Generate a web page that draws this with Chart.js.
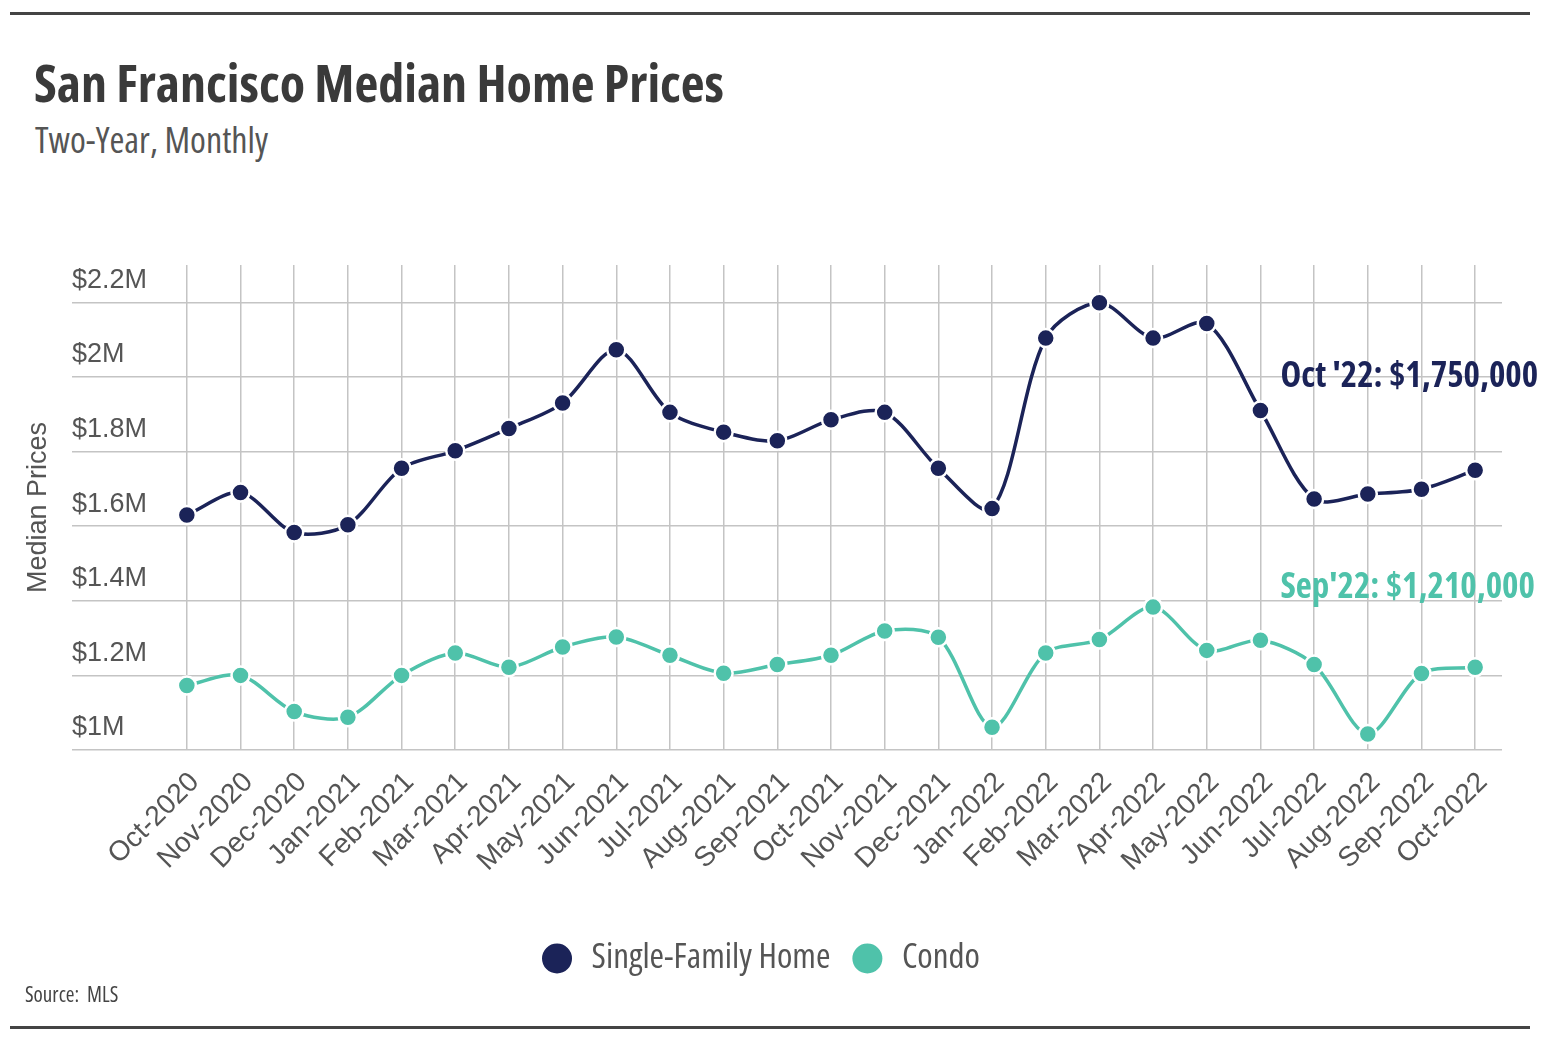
<!DOCTYPE html>
<html>
<head>
<meta charset="utf-8">
<script src="https://cdn.jsdelivr.net/npm/chart.js@4/dist/chart.umd.min.js"></script>
<style>
  html, body { margin: 0; padding: 0; background: #fff; }
  body { width: 1550px; height: 1040px; position: relative; overflow: hidden; }
  .rule { position: absolute; left: 10px; width: 1520px; height: 3px; background: #444; }
  .narrow { font-family: 'Open Sans', sans-serif; font-stretch: condensed; }
  #title { position: absolute; left: 34px; top: 56px; font-size: 52px; line-height: 52px; font-weight: bold; color: #3a3a3a; white-space: nowrap; }
  #subtitle { position: absolute; left: 35px; top: 122px; font-size: 36px; line-height: 36px; color: #555; white-space: nowrap; }
  #source { position: absolute; left: 25px; top: 984px; font-size: 21px; line-height: 21px; color: #444; white-space: nowrap; }
  #wrap { position: absolute; left: 0; top: 240px; width: 1550px; height: 746px; }
</style>
</head>
<body>
<div class="rule" style="top:12px"></div>
<div id="title" class="narrow">San Francisco Median Home Prices</div>
<div id="subtitle" class="narrow">Two-Year, Monthly</div>
<div id="wrap"><canvas id="c"></canvas></div>
<div id="source" class="narrow">Source:&nbsp; MLS</div>
<div class="rule" style="top:1026px"></div>
<script>
const categories = ['Oct-2020','Nov-2020','Dec-2020','Jan-2021','Feb-2021','Mar-2021','Apr-2021','May-2021','Jun-2021','Jul-2021','Aug-2021','Sep-2021','Oct-2021','Nov-2021','Dec-2021','Jan-2022','Feb-2022','Mar-2022','Apr-2022','May-2022','Jun-2022','Jul-2022','Aug-2022','Sep-2022','Oct-2022'];
const singleFamily = [1630000,1690000,1583000,1604000,1755000,1802000,1862000,1930000,2073000,1905000,1852000,1829000,1885000,1905000,1755000,1647000,2104000,2199000,2104000,2143000,1910000,1673000,1686000,1699000,1750000];
const condo = [1173000,1200000,1103000,1088000,1200000,1260000,1222000,1276000,1303000,1254000,1206000,1229000,1254000,1319000,1302000,1061000,1260000,1296000,1383000,1267000,1294000,1229000,1043000,1205000,1222000];
const seriesNames = ['Single-Family Home', 'Condo'];
const yTickValues = [1000000,1200000,1400000,1600000,1800000,2000000,2200000];
const yTickLabels = ['$1M','$1.2M','$1.4M','$1.6M','$1.8M','$2M','$2.2M'];
const endLabels = ["Oct '22: $1,750,000", "Sep'22: $1,210,000"];

const NAVY = '#1b2358';
const TEAL = '#4fc2aa';
const COND = "'Open Sans', sans-serif";
const REG = "'Liberation Sans', Arial, sans-serif";
const GRID = '#c4c4c4';

const endLabelPlugin = {
  id: 'endLabels',
  afterDatasetsDraw(chart) {
    const {ctx, scales: {x, y}} = chart;
    ctx.save();
    ctx.font = 'bold condensed 35px ' + COND;
    ctx.textAlign = 'left';
    ctx.textBaseline = 'middle';
    const lx = x.getPixelForValue(20) + 20;
    ctx.fillStyle = NAVY;
    ctx.fillText(endLabels[0], lx, y.getPixelForValue(2000000));
    ctx.fillStyle = TEAL;
    ctx.fillText(endLabels[1], lx, y.getPixelForValue(1435000));
    ctx.restore();
  }
};

new Chart(document.getElementById('c'), {
  type: 'line',
  data: {
    labels: categories,
    datasets: [
      { label: seriesNames[0], data: singleFamily, borderColor: NAVY, backgroundColor: NAVY,
        pointBackgroundColor: NAVY, pointBorderColor: '#fff', pointBorderWidth: 2.5, pointRadius: 9,
        pointHoverRadius: 9, borderWidth: 3.5, tension: 0.3 },
      { label: seriesNames[1], data: condo, borderColor: TEAL, backgroundColor: TEAL,
        pointBackgroundColor: TEAL, pointBorderColor: '#fff', pointBorderWidth: 2.5, pointRadius: 9,
        pointHoverRadius: 9, borderWidth: 3.5, tension: 0.3 }
    ]
  },
  options: {
    responsive: true,
    maintainAspectRatio: false,
    animation: false,
    devicePixelRatio: 1,
    layout: { padding: { left: 18, right: 48, top: 25, bottom: 0 } },
    plugins: {
      legend: {
        position: 'bottom',
        labels: {
          usePointStyle: true, pointStyle: 'circle', boxWidth: 34, boxHeight: 23, padding: 20,
          color: '#555', font: { family: COND, size: 35, weight: '400 condensed' }
        }
      },
      tooltip: { enabled: false }
    },
    scales: {
      x: {
        offset: true,
        grid: { color: GRID, lineWidth: 1.5, offset: false, drawTicks: false },
        border: { display: false },
        ticks: { autoSkip: false, maxRotation: 45, minRotation: 45, padding: 16, labelOffset: 8, color: '#555',
                 font: { family: REG, size: 28 } },
        afterFit(scale) { scale.height = 171; }
      },
      y: {
        min: 1000000, max: 2300000,
        grid: { color: GRID, lineWidth: 1.5, drawTicks: true, tickLength: 88 },
        border: { display: false },
        afterBuildTicks(scale) { scale.ticks = yTickValues.map(v => ({ value: v })); },
        ticks: {
          autoSkip: false, mirror: true, padding: -88, labelOffset: -22,
          color: '#555', font: { family: REG, size: 27 },
          callback(value) {
            const i = yTickValues.findIndex(v => Math.abs(v - value) < 1);
            return i >= 0 ? yTickLabels[i] : '';
          }
        },
        title: { display: true, text: 'Median Prices', color: '#555', font: { family: REG, size: 27 },
                 padding: { top: 4, bottom: 0 } },
        afterFit(scale) { scale.width = 142; }
      }
    }
  },
  plugins: [endLabelPlugin]
});
</script>
</body>
</html>
